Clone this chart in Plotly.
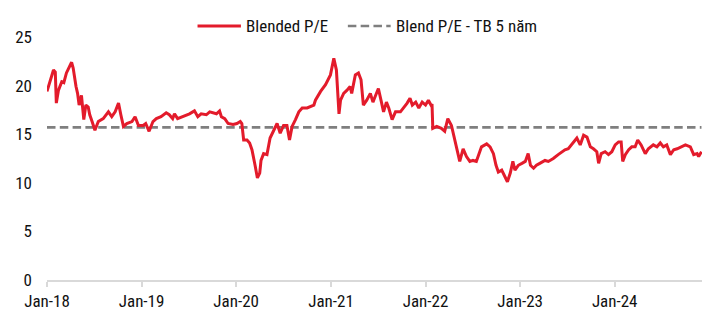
import plotly.graph_objects as go

dates = [
    "2018-01-01", "2018-01-26", "2018-02-02", "2018-02-06", "2018-02-14", "2018-02-27", "2018-03-07", "2018-03-17",
    "2018-04-06", "2018-04-12", "2018-04-23", "2018-04-29", "2018-05-05", "2018-05-14", "2018-05-23", "2018-05-31",
    "2018-06-09", "2018-06-15", "2018-06-24", "2018-07-05", "2018-07-18", "2018-08-06", "2018-08-26", "2018-09-08",
    "2018-09-21", "2018-10-04", "2018-10-13", "2018-10-23", "2018-11-05", "2018-11-25", "2018-12-07", "2018-12-20",
    "2019-01-07", "2019-01-17", "2019-01-30", "2019-02-14", "2019-02-27", "2019-03-17", "2019-04-06", "2019-04-18",
    "2019-05-01", "2019-05-08", "2019-05-20", "2019-06-09", "2019-07-05", "2019-07-24", "2019-08-06", "2019-08-19",
    "2019-09-08", "2019-09-21", "2019-10-17", "2019-10-29", "2019-11-05", "2019-11-18", "2019-12-01", "2019-12-20",
    "2020-01-04", "2020-01-17", "2020-01-23", "2020-01-30", "2020-02-12", "2020-02-22", "2020-03-02", "2020-03-14",
    "2020-03-23", "2020-04-01", "2020-04-06", "2020-04-16", "2020-04-29", "2020-05-11", "2020-05-24", "2020-06-07",
    "2020-06-13", "2020-06-19", "2020-07-02", "2020-07-15", "2020-07-25", "2020-08-04", "2020-08-17", "2020-08-30",
    "2020-09-12", "2020-10-01", "2020-10-27", "2020-11-02", "2020-11-22", "2020-12-11", "2020-12-30",
    "2021-01-12", "2021-01-22", "2021-02-01", "2021-02-07", "2021-02-19", "2021-03-03", "2021-03-16", "2021-03-22",
    "2021-04-05", "2021-04-17", "2021-04-27", "2021-05-06", "2021-05-19", "2021-06-02", "2021-06-12", "2021-06-21",
    "2021-07-03", "2021-07-13", "2021-07-23", "2021-08-03", "2021-08-12", "2021-08-25", "2021-09-07", "2021-09-26",
    "2021-10-09", "2021-10-22", "2021-11-02", "2021-11-11", "2021-11-24", "2021-12-06", "2021-12-19",
    "2022-01-01", "2022-01-12", "2022-01-22", "2022-01-26", "2022-01-29", "2022-02-13", "2022-03-03", "2022-03-16",
    "2022-03-28", "2022-04-11", "2022-04-24", "2022-05-06", "2022-05-13", "2022-05-26", "2022-06-08", "2022-06-21",
    "2022-07-03", "2022-07-16", "2022-08-05", "2022-08-25", "2022-09-07", "2022-09-20", "2022-09-30", "2022-10-09",
    "2022-10-22", "2022-11-04", "2022-11-13", "2022-11-24", "2022-12-04", "2022-12-12", "2022-12-25",
    "2023-01-08", "2023-01-21", "2023-02-01", "2023-02-10", "2023-02-22", "2023-03-05", "2023-03-18", "2023-04-07",
    "2023-04-20", "2023-05-09", "2023-05-28", "2023-06-10", "2023-06-23", "2023-07-06", "2023-07-25", "2023-08-08",
    "2023-08-21", "2023-09-03", "2023-09-16", "2023-09-29", "2023-10-11", "2023-10-24", "2023-10-31", "2023-11-10",
    "2023-11-25", "2023-12-08", "2023-12-21",
    "2024-01-03", "2024-01-16", "2024-01-26", "2024-02-01", "2024-02-11", "2024-02-24", "2024-03-07", "2024-03-20",
    "2024-03-30", "2024-04-12", "2024-04-28", "2024-05-10", "2024-05-29", "2024-06-12", "2024-06-25", "2024-07-07",
    "2024-07-20", "2024-08-03", "2024-08-16", "2024-08-29", "2024-09-17", "2024-09-30", "2024-10-19", "2024-11-01",
    "2024-11-14", "2024-11-20", "2024-12-01",
]

blended_pe = [
    19.4, 21.6, 21.4, 18.2, 19.5, 20.4, 20.3, 21.3,
    22.4, 21.8, 19.9, 19.2, 18.0, 19.0, 16.5, 18.0,
    17.8, 17.0, 16.3, 15.4, 16.3, 16.6, 17.3, 16.8,
    17.3, 18.2, 17.0, 15.8, 16.1, 16.3, 16.8, 15.9,
    15.9, 16.1, 15.3, 16.3, 16.6, 16.8, 17.2, 17.0,
    16.6, 17.1, 16.6, 16.8, 17.1, 17.4, 16.8, 17.1,
    17.0, 17.3, 17.1, 17.4, 16.8, 16.6, 16.1, 16.0,
    16.1, 16.3, 16.1, 14.4, 14.4, 14.1, 13.4, 11.8,
    10.5, 11.0, 12.3, 13.0, 12.9, 14.6, 15.3, 16.1,
    15.6, 15.1, 15.9, 15.9, 14.4, 15.8, 16.5, 17.3,
    17.7, 17.7, 18.0, 18.5, 19.4, 20.1, 21.1,
    22.8, 21.6, 17.1, 18.5, 19.2, 19.5, 19.9, 19.2,
    21.1, 21.3, 20.6, 18.0, 18.5, 19.2, 18.3, 18.9,
    19.7, 18.5, 17.3, 18.3, 17.7, 16.5, 17.3, 17.3,
    17.7, 18.2, 18.7, 18.0, 18.3, 17.7, 18.3,
    18.0, 18.5, 18.0, 18.1, 15.6, 15.8, 15.6, 15.3,
    16.6, 15.9, 14.4, 13.0, 12.2, 13.5, 12.7, 12.2,
    12.3, 12.2, 13.7, 14.0, 13.7, 13.0, 11.8, 11.1,
    11.3, 10.6, 10.1, 11.0, 12.2, 11.3, 11.8,
    12.0, 12.2, 13.0, 11.8, 11.5, 11.8, 12.0, 12.3,
    12.2, 12.5, 12.9, 13.2, 13.4, 13.5, 14.2, 14.6,
    13.9, 14.9, 14.7, 13.7, 13.5, 13.2, 12.0, 13.0,
    13.2, 12.9, 13.2,
    13.9, 14.2, 14.2, 12.2, 12.9, 13.4, 13.7, 13.7,
    14.4, 13.9, 13.0, 13.5, 13.9, 13.7, 14.1, 13.7,
    13.9, 12.9, 13.4, 13.5, 13.7, 13.9, 13.7, 12.9,
    13.0, 12.7, 13.2,
]

avg_5y = 15.7
avg_dates = [dates[0], dates[-1]]
avg_values = [avg_5y, avg_5y]

series_names = ["Blended P/E", "Blend P/E - TB 5 năm"]
tick_values = ["2018-01-01", "2019-01-01", "2020-01-01", "2021-01-01", "2022-01-01", "2023-01-01", "2024-01-01"]
tick_labels = ["Jan-18", "Jan-19", "Jan-20", "Jan-21", "Jan-22", "Jan-23", "Jan-24"]
y_ticks = [0, 5, 10, 15, 20, 25]

RED = "#E31B2B"
GRAY = "#7F7F7F"
FONT = "Roboto Condensed, Liberation Sans Narrow, Arial Narrow, sans-serif"
FS = 17
TXT = "#111111"

fig = go.Figure()
fig.add_trace(go.Scatter(x=avg_dates, y=avg_values, mode="lines", name=series_names[1],
                         line=dict(color=GRAY, width=2.6, dash="8.5px,4.3px"), showlegend=False))
fig.add_trace(go.Scatter(x=dates, y=blended_pe, mode="lines", name=series_names[0],
                         line=dict(color=RED, width=3), showlegend=False))

# layout geometry (pixels)
W, H = 716, 330
L, R, T, B = 46.7, 14, 37, 50
pw = W - L - R
ph = H - T - B

def px_x(p):
    return (p - L) / pw

def px_y(p):
    return (H - B - p) / ph

# manual legend
leg_y = px_y(26)
fig.add_shape(type="line", xref="paper", yref="paper", x0=px_x(197.3), x1=px_x(240.7), y0=leg_y, y1=leg_y,
              line=dict(color=RED, width=3))
fig.add_shape(type="line", xref="paper", yref="paper", x0=px_x(347.7), x1=px_x(390.5), y0=leg_y, y1=leg_y,
              line=dict(color=GRAY, width=2.6, dash="8.5px,4.3px"))
fig.add_annotation(xref="paper", yref="paper", x=px_x(244), y=leg_y, xanchor="left", yanchor="middle",
                   text=series_names[0], showarrow=False, font=dict(family=FONT, size=FS, color=TXT))
fig.add_annotation(xref="paper", yref="paper", x=px_x(394.3), y=leg_y, xanchor="left", yanchor="middle",
                   text=series_names[1], showarrow=False, font=dict(family=FONT, size=FS, color=TXT))

fig.update_layout(
    width=W, height=H,
    margin=dict(l=L, r=R, t=T, b=B, pad=0),
    paper_bgcolor="white", plot_bgcolor="white",
    font=dict(family=FONT, size=FS, color=TXT),
    showlegend=False,
)
fig.update_xaxes(
    type="date", range=["2018-01-01", "2024-12-03"],
    tickvals=tick_values, ticktext=tick_labels,
    showgrid=False, zeroline=False,
    showline=True, linecolor="#D9D9D9", linewidth=1.5,
    ticks="outside", ticklen=5, tickcolor="#D9D9D9", tickwidth=1.5,
    tickfont=dict(family=FONT, size=FS, color=TXT),
)
fig.update_yaxes(
    range=[0, 25], tickvals=y_ticks,
    showgrid=False, zeroline=False, showline=False, ticks="",
    ticklabelstandoff=14,
    tickfont=dict(family=FONT, size=FS, color=TXT),
)

fig.write_html("out.html")
